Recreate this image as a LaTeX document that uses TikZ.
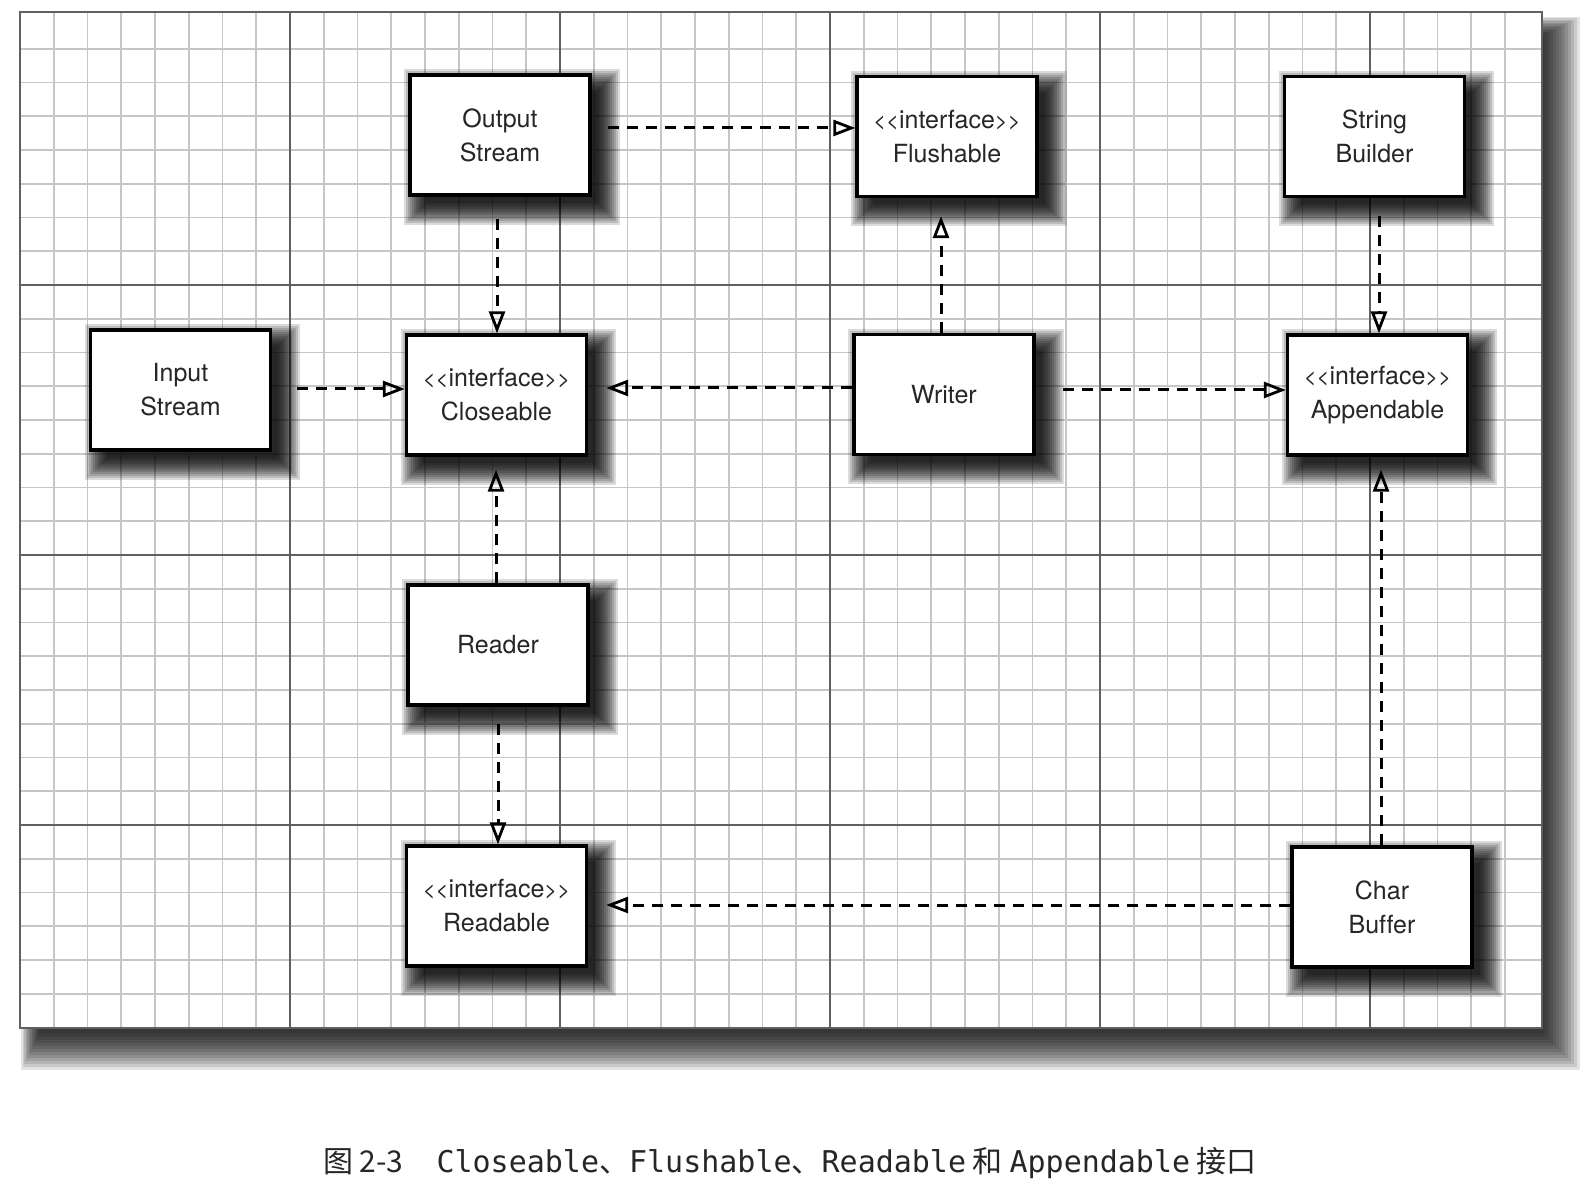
\documentclass[tikz,border=0pt]{standalone}
\usepackage{fontspec}
\setmainfont[Ligatures={NoCommon}]{TeX Gyre Heros}
\newfontfamily\cjk{Noto Sans CJK SC}
\newfontfamily\capmono{DejaVu Sans Mono}
\usetikzlibrary{arrows.meta,calc}
\pgfdeclarelayer{bgl}
\pgfdeclarelayer{gridl}
\pgfdeclarelayer{shadl}
\pgfsetlayers{bgl,gridl,shadl,main}
\newcommand{\ifc}{{\fontsize{11}{17}\selectfont<{}<}interface{\fontsize{11}{17}\selectfont>{}>}}
\begin{document}
\begin{tikzpicture}[x=0.5pt,y=-0.5pt,
  cls/.style={draw=black, line width=1.6pt, fill=white, minimum width=90pt, minimum height=60pt,
    inner sep=0pt, align=center, font=\fontsize{12.5}{17}\selectfont, text=black!85},
  shd/.style={fill=black, fill opacity=0.14},
  dep/.style={line width=1.5pt, dash pattern=on 5.5pt off 4pt,
    -{Triangle[open,length=11pt,width=8pt,line width=1.4pt]}},
  minorg/.style={gray!45, line width=0.8pt},
  majorg/.style={gray!75!black, line width=1.2pt}]
\useasboundingbox (0,0) rectangle (1590,1186);
% panel
\begin{pgfonlayer}{bgl}
\coordinate (pnw) at (20,12);
\coordinate (pse) at (1542,1028);
\foreach \ee in {-10,-7,...,26} {
  \fill[black, fill opacity=0.11] ($(pnw)+({14-\ee/2},{18-\ee/2})$) rectangle ($(pse)+(12+\ee,16+\ee)$);
}
\fill[white] (pnw) rectangle (pse);
\end{pgfonlayer}
\begin{pgfonlayer}{gridl}
\foreach \i in {1,...,44} {\draw[minorg] ({20+33.75*\i},12) -- ({20+33.75*\i},1028);}
\foreach \j in {1,...,30} {\draw[minorg] (20,{15+33.75*\j}) -- (1542,{15+33.75*\j});}
\foreach \i in {1,...,5} {\draw[majorg] ({20+270*\i},12) -- ({20+270*\i},1028);}
\foreach \j in {1,...,3} {\draw[majorg] (20,{15+270*\j}) -- (1542,{15+270*\j});}
\draw[majorg] (pnw) rectangle (pse);
\end{pgfonlayer}
% nodes
\node[cls] (out) at (500,135) {Output\\Stream};
\node[cls] (flush) at (947,136.5) {\ifc\\Flushable};
\node[cls] (sb) at (1374.5,136.5) {String\\Builder};
\node[cls] (in) at (180.5,390) {Input\\Stream};
\node[cls] (close) at (496.5,395) {\ifc\\Closeable};
\node[cls] (writer) at (944,394.5) {Writer};
\node[cls] (app) at (1377.5,395) {\ifc\\Appendable};
\node[cls] (reader) at (498,645) {Reader};
\node[cls] (readable) at (496.5,906) {\ifc\\Readable};
\node[cls] (cb) at (1382,907) {Char\\Buffer};
% shadows
\begin{pgfonlayer}{shadl}
\foreach \n in {out,flush,sb,in,close,writer,app,reader,readable,cb} {
  \foreach \ee in {-6,-4,...,16} {
    \fill[shd] ($(\n.north west)+(12-\ee,12-\ee)$) rectangle ($(\n.south east)+(12+\ee,12+\ee)$);
  }
}
\end{pgfonlayer}
% connectors
\draw[dep] ($(out.east)+(16,-7)$) coordinate (c1) -- (c1 -| flush.west);
\draw[dep] ($(out.south)+(-3,22)$) coordinate (c2) -- (c2 |- close.north);
\draw[dep] ($(in.east)+(25,-1)$) coordinate (c3) -- (c3 -| close.west);
\draw[dep, shorten >=9pt] ($(writer.west)+(0,-6.5)$) coordinate (c4) -- (c4 -| close.east);
\draw[dep, shorten >=9pt] ($(writer.north)+(-3,0)$) coordinate (c5) -- (c5 |- flush.south);
\draw[dep] ($(writer.east)+(27,-4.5)$) coordinate (c6) -- (c6 -| app.west);
\draw[dep] ($(sb.south)+(4.5,18)$) coordinate (c7) -- (c7 |- app.north);
\draw[dep, shorten >=6.5pt] ($(reader.north)+(-2,0)$) coordinate (c8) -- (c8 |- close.south);
\draw[dep] ($(reader.south)+(0,17)$) coordinate (c9) -- (c9 |- readable.north);
\draw[dep, shorten >=6.5pt] ($(cb.north)+(-1,0)$) coordinate (c10) -- (c10 |- app.south);
\draw[dep, shorten >=9pt] ($(cb.west)+(0,-2)$) coordinate (c11) -- (c11 -| readable.east);
% caption
\node[text=black!85, font=\fontsize{15}{18}\selectfont, anchor=base] (cap) at (790,1172)
  {{\cjk 图 2-3}\hspace{1.1em}{\capmono Closeable}{\cjk 、}{\capmono Flushable}{\cjk 、}{\capmono Readable}{\cjk\ 和 }{\capmono Appendable}{\cjk\ 接口}};
\end{tikzpicture}
\end{document}
